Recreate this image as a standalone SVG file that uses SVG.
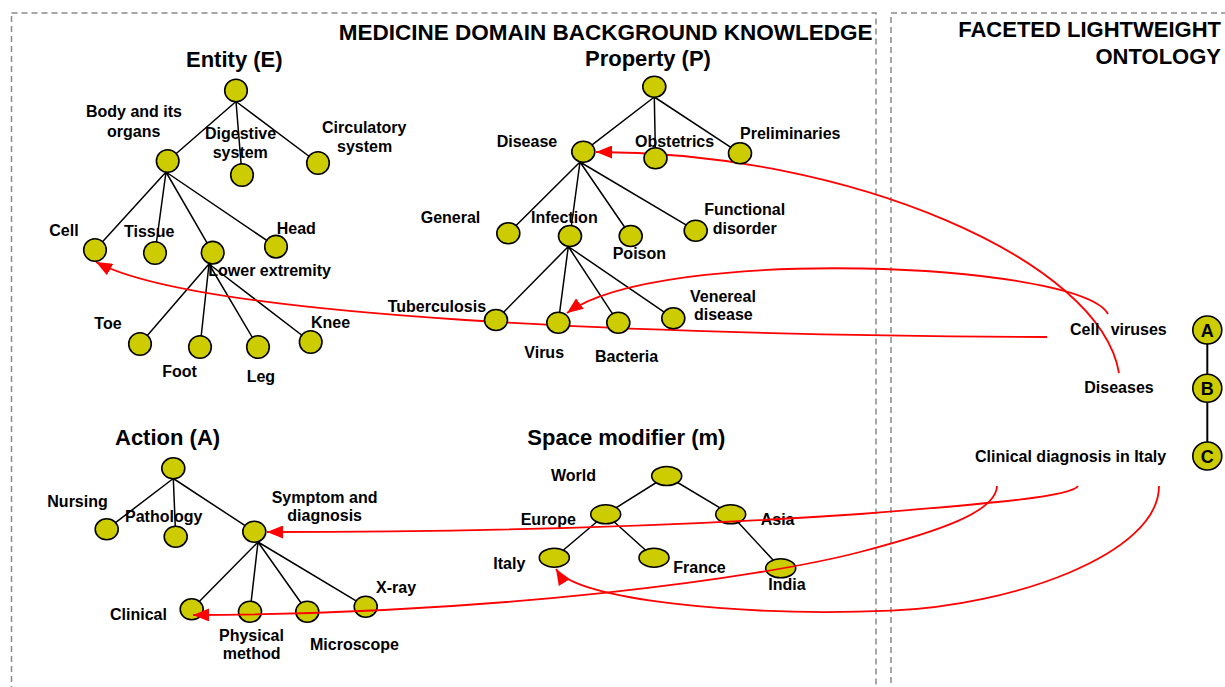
<svg xmlns="http://www.w3.org/2000/svg" width="1225" height="687" viewBox="0 0 1225 687">
<style>
text{font-family:"Liberation Sans",Arial,Helvetica,sans-serif;font-weight:bold;fill:#000}
.h{font-size:22px}
.l{font-size:16px}
.n{fill:#CCCC00;stroke:#000;stroke-width:1.6}
.e{stroke:#000;stroke-width:1.5;fill:none}
.m{stroke:#FF0000;stroke-width:1.8;fill:none;marker-end:url(#arrow)}
.m2{stroke:#FF0000;stroke-width:1.8;fill:none}
.frame{fill:none;stroke:#8a8a8a;stroke-width:1.5;stroke-dasharray:6 4}
.abc{font-size:18px;text-anchor:middle}
</style>
<defs>
<marker id="arrow" markerUnits="userSpaceOnUse" markerWidth="16" markerHeight="13" viewBox="0 0 16 13" refX="16" refY="6.5" orient="auto">
<path d="M0,0 L16,6.5 L0,13 z" fill="#FF0000"/>
</marker>
</defs>
<rect width="1225" height="687" fill="#fff"/>

<!-- panel frames -->
<rect class="frame" x="11.5" y="13" width="864.5" height="720"/>
<rect class="frame" x="891" y="13" width="400" height="720"/>
<text class="h" x="872.5" y="39.5" text-anchor="end" style="font-size:22.5px">MEDICINE DOMAIN BACKGROUND KNOWLEDGE</text>
<text class="h" x="1221" y="36.5" text-anchor="end">FACETED LIGHTWEIGHT</text>
<text class="h" x="1221" y="63.5" text-anchor="end">ONTOLOGY</text>

<!-- facet headings -->
<text class="h" x="186" y="66.5">Entity (E)</text>
<text class="h" x="585" y="66">Property (P)</text>
<text class="h" x="115" y="445">Action (A)</text>
<text class="h" x="527.3" y="445">Space modifier (m)</text>

<!-- hierarchy edges -->
<g id="tree-edges" class="e">
<path d="M236,101.5 L167.7,161 M236,101.5 L242,175 M236,101.5 L318,163"/>
<path d="M166,172 L95,250 M166,172 L155,253 M166,172 L212.7,252.7 M166,172 L276,246.7"/>
<path d="M209,264 L140,344 M209,264 L200,347 M209,264 L258,347 M209,264 L310.7,342"/>
<path d="M654.3,97 L583.3,151.7 M654.3,97 L655.5,158.3 M654.3,97 L740,153.3"/>
<path d="M580,162 L508.3,233.3 M580,162 L570,236 M580,162 L630.7,236 M580,162 L695.7,230.7"/>
<path d="M568.3,246.5 L496,320 M568.3,246.5 L558.3,322.7 M568.3,246.5 L618.3,322.7 M568.3,246.5 L673.3,318.3"/>
<path d="M173.3,478.5 L106.7,529.3 M173.3,478.5 L175.7,536.7 M173.3,478.5 L254.3,531.7"/>
<path d="M258,542 L191.7,609.3 M258,542 L250,611.7 M258,542 L307.3,611.7 M258,542 L365.7,606.7"/>
<path d="M666.7,476 L605.7,514.3 M666.7,476 L730.7,514.3"/>
<path d="M605.7,514.3 L554.3,557.7 M605.7,514.3 L654,557.7 M730.7,514.3 L780.7,568.3"/>
<path d="M1207.3,330 L1207.3,456" stroke-width="2"/>
</g>

<!-- Action facet -->
<g id="action-root"><ellipse class="n" cx="173.3" cy="468.3" rx="11.5" ry="10.5"/></g>
<g id="action-nursing"><ellipse class="n" cx="106.7" cy="529.3" rx="11.5" ry="10.5"/><text class="l" x="47.3" y="507.3">Nursing</text></g>
<g id="action-pathology"><ellipse class="n" cx="175.7" cy="536.7" rx="11.5" ry="10.5"/><text class="l" x="125" y="521.7">Pathology</text></g>
<g id="action-symptom"><ellipse class="n" cx="254.3" cy="531.7" rx="11.5" ry="10.5"/><text class="l" x="271.7" y="502.7">Symptom and</text><text class="l" x="287.3" y="521">diagnosis</text></g>
<g id="action-clinical"><ellipse class="n" cx="191.7" cy="609.3" rx="11.5" ry="10.5"/><text class="l" x="110" y="620">Clinical</text></g>
<g id="action-physical"><ellipse class="n" cx="250" cy="611.7" rx="11.5" ry="10.5"/><text class="l" x="219" y="640.7">Physical</text><text class="l" x="222.7" y="659.3">method</text></g>
<g id="action-microscope"><ellipse class="n" cx="307.3" cy="611.7" rx="11.5" ry="10.5"/><text class="l" x="310" y="650">Microscope</text></g>
<g id="action-xray"><ellipse class="n" cx="365.7" cy="606.7" rx="11.5" ry="10.5"/><text class="l" x="376" y="593.3">X-ray</text></g>

<!-- Space modifier facet -->
<g id="space-world"><ellipse class="n" cx="666.7" cy="476" rx="15" ry="9.5"/><text class="l" x="551" y="481">World</text></g>
<g id="space-europe"><ellipse class="n" cx="605.7" cy="514.3" rx="15" ry="9.5"/><text class="l" x="520.7" y="525">Europe</text></g>
<g id="space-asia"><ellipse class="n" cx="730.7" cy="514.3" rx="15" ry="9.5"/><text class="l" x="760.7" y="525">Asia</text></g>
<g id="space-italy"><ellipse class="n" cx="554.3" cy="557.7" rx="15" ry="9.5"/><text class="l" x="493.3" y="569.3">Italy</text></g>
<g id="space-france"><ellipse class="n" cx="654" cy="557.7" rx="15" ry="9.5"/><text class="l" x="673.3" y="573.3">France</text></g>
<g id="space-india"><ellipse class="n" cx="780.7" cy="568.3" rx="15" ry="9.5"/><text class="l" x="768.3" y="590">India</text></g>

<!-- mappings from ontology labels to background concepts -->
<g id="mappings">
<path class="m" d="M1047,337 C650,335 200,318 96,262"/>
<path class="m" d="M1108,314 C1080,262 660,245 567,313"/>
<path class="m" d="M1119,373 C1100,260 850,152 596,152"/>
<path class="m" d="M1078,486 C1072,496 1000,503 860,514 C700,525 500,532 267,532"/>
<path class="m" d="M997,486 C996,512 940,531 860,552 C760,578 500,614 193,615"/>
<path class="m" d="M1159,486 C1159,555 1010,606 891,610.7 C740,616.7 575,600 556,569"/>
</g>

<!-- Entity facet -->
<g id="entity-root"><circle class="n" cx="236" cy="90.5" r="11.3"/></g>
<g id="entity-body"><circle class="n" cx="167.7" cy="161" r="11.3"/><text class="l" x="86" y="117.3">Body and its</text><text class="l" x="107" y="136.5">organs</text></g>
<g id="entity-digestive"><circle class="n" cx="242" cy="175" r="11.3"/><text class="l" x="205" y="139">Digestive</text><text class="l" x="212.7" y="157.7">system</text></g>
<g id="entity-circulatory"><circle class="n" cx="318" cy="163" r="11.3"/><text class="l" x="322" y="133.3">Circulatory</text><text class="l" x="337" y="151.7">system</text></g>
<g id="entity-cell"><circle class="n" cx="95" cy="250" r="11.3"/><text class="l" x="49.3" y="236">Cell</text></g>
<g id="entity-tissue"><circle class="n" cx="155" cy="253" r="11.3"/><text class="l" x="124" y="237">Tissue</text></g>
<g id="entity-lower"><circle class="n" cx="212.7" cy="252.7" r="11.3"/><text class="l" x="208.3" y="275.5">Lower extremity</text></g>
<g id="entity-head"><circle class="n" cx="276" cy="246.7" r="11.3"/><text class="l" x="276.7" y="234">Head</text></g>
<g id="entity-toe"><circle class="n" cx="140" cy="344" r="11.3"/><text class="l" x="94.3" y="329">Toe</text></g>
<g id="entity-foot"><circle class="n" cx="200" cy="347" r="11.3"/><text class="l" x="162.3" y="376.7">Foot</text></g>
<g id="entity-leg"><circle class="n" cx="258" cy="347" r="11.3"/><text class="l" x="246.7" y="382">Leg</text></g>
<g id="entity-knee"><circle class="n" cx="310.7" cy="342" r="11.3"/><text class="l" x="311" y="327.7">Knee</text></g>

<!-- Property facet -->
<g id="property-root"><ellipse class="n" cx="654.3" cy="86.7" rx="11.5" ry="10.5"/></g>
<g id="property-disease"><ellipse class="n" cx="583.3" cy="151.7" rx="11.5" ry="10.5"/><text class="l" x="496.7" y="146.7">Disease</text></g>
<g id="property-obstetrics"><ellipse class="n" cx="655.5" cy="158.3" rx="11.5" ry="10.5"/><text class="l" x="635" y="147.3">Obstetrics</text></g>
<g id="property-preliminaries"><ellipse class="n" cx="740" cy="153.3" rx="11.5" ry="10.5"/><text class="l" x="740" y="139.3">Preliminaries</text></g>
<g id="property-general"><ellipse class="n" cx="508.3" cy="233.3" rx="11.5" ry="10.5"/><text class="l" x="420.7" y="223.3">General</text></g>
<g id="property-infection"><ellipse class="n" cx="570" cy="236" rx="11.5" ry="10.5"/><text class="l" x="531" y="223.3">Infection</text></g>
<g id="property-poison"><ellipse class="n" cx="630.7" cy="236" rx="11.5" ry="10.5"/><text class="l" x="612.7" y="259.3">Poison</text></g>
<g id="property-functional"><ellipse class="n" cx="695.7" cy="230.7" rx="11.5" ry="10.5"/><text class="l" x="704.3" y="215">Functional</text><text class="l" x="712.7" y="234.3">disorder</text></g>
<g id="property-tuberculosis"><ellipse class="n" cx="496" cy="320" rx="11.5" ry="10.5"/><text class="l" x="387.7" y="311.7">Tuberculosis</text></g>
<g id="property-virus"><ellipse class="n" cx="558.3" cy="322.7" rx="11.5" ry="10.5"/><text class="l" x="524.3" y="358.3">Virus</text></g>
<g id="property-bacteria"><ellipse class="n" cx="618.3" cy="322.7" rx="11.5" ry="10.5"/><text class="l" x="595" y="362.3">Bacteria</text></g>
<g id="property-venereal"><ellipse class="n" cx="673.3" cy="318.3" rx="11.5" ry="10.5"/><text class="l" x="690" y="301.7">Venereal</text><text class="l" x="694" y="320">disease</text></g>

<!-- Faceted lightweight ontology -->
<g id="flo-a"><ellipse class="n" cx="1207.3" cy="330" rx="14.5" ry="14"/><text class="abc" x="1207.3" y="336.5">A</text><text class="l" x="1070" y="335">Cell</text><text class="l" x="1110.7" y="335">viruses</text></g>
<g id="flo-b"><ellipse class="n" cx="1207.3" cy="388.3" rx="14.5" ry="14"/><text class="abc" x="1207.3" y="394.8">B</text><text class="l" x="1084.3" y="393.3">Diseases</text></g>
<g id="flo-c"><ellipse class="n" cx="1207.3" cy="456" rx="14.5" ry="14"/><text class="abc" x="1207.3" y="462.5">C</text><text class="l" x="975" y="461.7">Clinical diagnosis in Italy</text></g>
</svg>
